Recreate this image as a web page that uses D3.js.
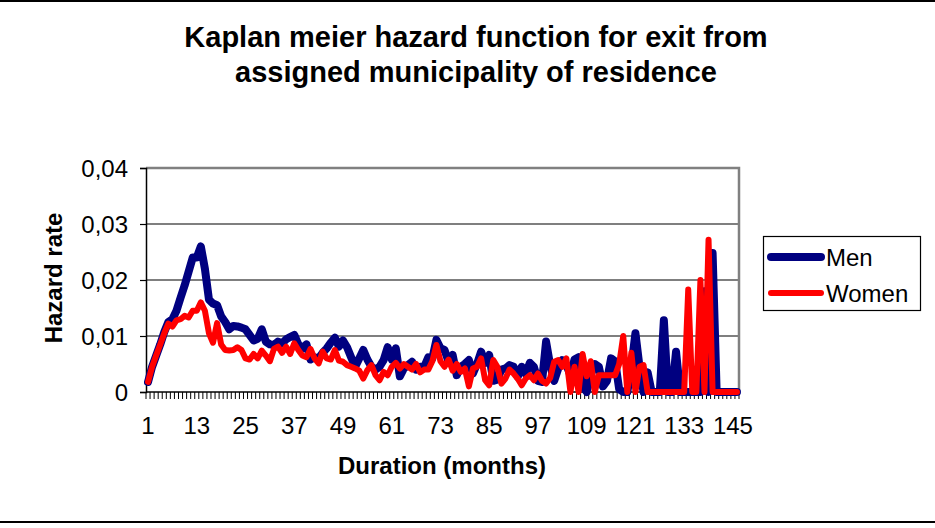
<!DOCTYPE html>
<html><head><meta charset="utf-8">
<script src="https://cdn.jsdelivr.net/npm/d3@7"></script>
<style>
html,body{margin:0;padding:0;background:#fff;}
svg{display:block;font-family:Arial,"Liberation Sans",sans-serif;}
</style></head>
<body>
<svg id="chart" width="935" height="528"></svg>
<script>
// ---- data ----
const titleLines = ["Kaplan meier hazard function for exit from", "assigned municipality of residence"];
const xTitle = "Duration (months)";
const yTitle = "Hazard rate";
const seriesNames = ["Men", "Women"];
const months = d3.range(1, 147);
const xTickLabels = [1, 13, 25, 37, 49, 61, 73, 85, 97, 109, 121, 133, 145];
const yTickValues = [0, 0.01, 0.02, 0.03, 0.04];

const men = [
 0.0018,0.0045,0.0065,0.0085,0.0107,0.0125,0.013,0.0145,0.0168,0.019,
 0.0215,0.024,0.024,0.026,0.022,0.0165,0.0158,0.0155,0.0135,0.0125,
 0.0112,0.0118,0.0117,0.0115,0.0112,0.0102,0.0092,0.0095,0.0112,0.009,
 0.0085,0.0084,0.009,0.0087,0.0094,0.0098,0.0102,0.0085,0.0078,0.0085,
 0.0058,0.0062,0.006,0.007,0.0078,0.0088,0.0097,0.0081,0.0092,0.008,
 0.0062,0.0045,0.006,0.0075,0.0058,0.0045,0.004,0.0045,0.0057,0.008,
 0.0058,0.0078,0.0028,0.0042,0.0048,0.0054,0.004,0.0045,0.0045,0.0062,
 0.006,0.0093,0.0078,0.0075,0.0054,0.0066,0.003,0.0045,0.005,0.0057,
 0.0033,0.005,0.0072,0.0052,0.0066,0.002,0.0022,0.004,0.0042,0.0048,
 0.0045,0.0027,0.0045,0.0032,0.0052,0.0045,0.002,0.0018,0.009,0.0048,
 0.002,0.0042,0.0057,0.0048,0.003,0.0058,0.0062,0.001,0,0.003,
 0.005,0.0045,0.001,0.002,0.006,0.0055,0.0005,0,0,0.0045,
 0.0105,0.0045,0,0.0035,0,0,0,0.0128,0,0,
 0.0072,0,0,0,0,0,0,0.018,0,0.0248,
 0,0,0,0,0,0
];
const women = [
 0.0018,0.0045,0.0065,0.0085,0.0105,0.0122,0.0117,0.0128,0.013,0.0136,
 0.0133,0.0145,0.0145,0.016,0.0145,0.0105,0.0088,0.0123,0.0085,0.0075,
 0.0074,0.0075,0.008,0.0075,0.006,0.0058,0.0068,0.006,0.0074,0.0065,
 0.0055,0.0077,0.0081,0.007,0.0081,0.0068,0.0087,0.0075,0.0065,0.0062,
 0.0077,0.006,0.0051,0.0072,0.006,0.0058,0.0075,0.0056,0.0054,0.0048,
 0.0045,0.0042,0.0038,0.0024,0.0039,0.0048,0.003,0.0021,0.0036,0.003,
 0.0045,0.0052,0.0042,0.005,0.0045,0.004,0.005,0.0035,0.004,0.004,
 0.0055,0.0084,0.0055,0.0045,0.0058,0.0038,0.005,0.0036,0.0042,0.001,
 0.0042,0.0045,0.006,0.0021,0.0012,0.0057,0.0045,0.0015,0.0024,0.004,
 0.0033,0.0024,0.0012,0.0024,0.003,0.0021,0.0033,0.002,0.0015,0.0025,
 0.0054,0.0057,0.0045,0.006,0,0.0045,0,0.0068,0.0028,0.0055,
 0,0.003,0.003,0.003,0.003,0.003,0.005,0.01,0,0.007,
 0,0.0045,0.0048,0,0,0,0,0,0,0,
 0,0,0,0.0183,0,0,0.02,0,0.0272,0,
 0,0,0,0,0,0
];
const colors = ["#000080", "#FF0000"];
const widths = [8, 6];

// ---- layout ----
const svg = d3.select("#chart");
const plot = {left: 146, right: 739, top: 168, bottom: 392};

const x = d3.scaleBand().domain(months).range([plot.left, plot.right]).padding(0);
const y = d3.scaleLinear().domain([0, 0.04]).range([plot.bottom, plot.top]);
const cx = d => x(d) + x.bandwidth() / 2;

// outer frame lines (top/bottom)
svg.append("line").attr("x1",0).attr("x2",935).attr("y1",1).attr("y2",1).attr("stroke","#000").attr("stroke-width",2);
svg.append("line").attr("x1",0).attr("x2",935).attr("y1",522).attr("y2",522).attr("stroke","#000").attr("stroke-width",2);

// title
svg.append("text").attr("x",476).attr("y",47).attr("text-anchor","middle")
  .attr("font-size",29).attr("font-weight","bold").text(titleLines[0]);
svg.append("text").attr("x",476).attr("y",82).attr("text-anchor","middle")
  .attr("font-size",29).attr("font-weight","bold").text(titleLines[1]);

// gridlines
svg.append("g").selectAll("line").data(yTickValues.filter(v => v > 0 && v < 0.04)).join("line")
  .attr("x1", plot.left).attr("x2", plot.right)
  .attr("y1", d => y(d)).attr("y2", d => y(d))
  .attr("stroke","#000").attr("stroke-width",1.2);

// plot border top & right (gray)
svg.append("path")
  .attr("d", `M${plot.left},${plot.top}H${plot.right}V${plot.bottom}`)
  .attr("fill","none").attr("stroke","#808080").attr("stroke-width",2.5);

// y axis
const yAxis = d3.axisLeft(y).tickValues(yTickValues)
  .tickFormat(d => d === 0 ? "0" : d3.format(".2f")(d).replace(".", ","))
  .tickSize(6).tickPadding(12);
const gy = svg.append("g").attr("transform", `translate(${plot.left},0)`).call(yAxis);
gy.select(".domain").attr("stroke","#000").attr("stroke-width",1.5);
gy.selectAll(".tick line").attr("stroke","#000").attr("stroke-width",1.2);
gy.selectAll(".tick text").attr("font-size",24).attr("font-family","Arial, 'Liberation Sans', sans-serif").attr("fill","#000").attr("dy","0.36em");

// x axis (labels)
const xAxis = d3.axisBottom(x).tickValues(xTickLabels).tickSize(0).tickPadding(25);
const gx = svg.append("g").attr("transform", `translate(0,${plot.bottom})`).call(xAxis);
gx.select(".domain").remove();
gx.selectAll(".tick text").attr("font-size",24).attr("font-family","Arial, 'Liberation Sans', sans-serif").attr("fill","#000");

// x tick marks between categories
const boundaries = months.map(m => x(m)).concat([plot.right]);
svg.append("g").selectAll("line").data(boundaries).join("line")
  .attr("x1", d => d).attr("x2", d => d)
  .attr("y1", plot.bottom).attr("y2", plot.bottom + 7)
  .attr("stroke","#000").attr("stroke-width",1);
svg.append("line").attr("x1",plot.left).attr("x2",plot.right)
  .attr("y1",plot.bottom).attr("y2",plot.bottom).attr("stroke","#000").attr("stroke-width",1.5);

// lines
const line = d3.line().x((d, i) => cx(months[i])).y(d => y(d));
[men, women].forEach((s, k) => {
  svg.append("path").datum(s).attr("d", line)
    .attr("fill","none").attr("stroke", colors[k]).attr("stroke-width", widths[k])
    .attr("stroke-linejoin","round").attr("stroke-linecap","round");
});

// axis titles
svg.append("text").attr("x",442).attr("y",474).attr("text-anchor","middle")
  .attr("font-size",24).attr("font-weight","bold").text(xTitle);
svg.append("text").attr("transform","translate(62,278) rotate(-90)").attr("text-anchor","middle")
  .attr("font-size",24).attr("font-weight","bold").text(yTitle);

// legend
const lg = svg.append("g");
lg.append("rect").attr("x",763.5).attr("y",236.5).attr("width",157).attr("height",74)
  .attr("fill","#fff").attr("stroke","#000").attr("stroke-width",1.2);
seriesNames.forEach((n, k) => {
  const yy = 257 + k * 36;
  lg.append("line").attr("x1",771).attr("x2",821).attr("y1",yy).attr("y2",yy)
    .attr("stroke",colors[k]).attr("stroke-width",widths[k]).attr("stroke-linecap","round");
  lg.append("text").attr("x",826).attr("y",yy + 8.5).attr("font-size",24).text(n);
});
</script>
</body></html>
